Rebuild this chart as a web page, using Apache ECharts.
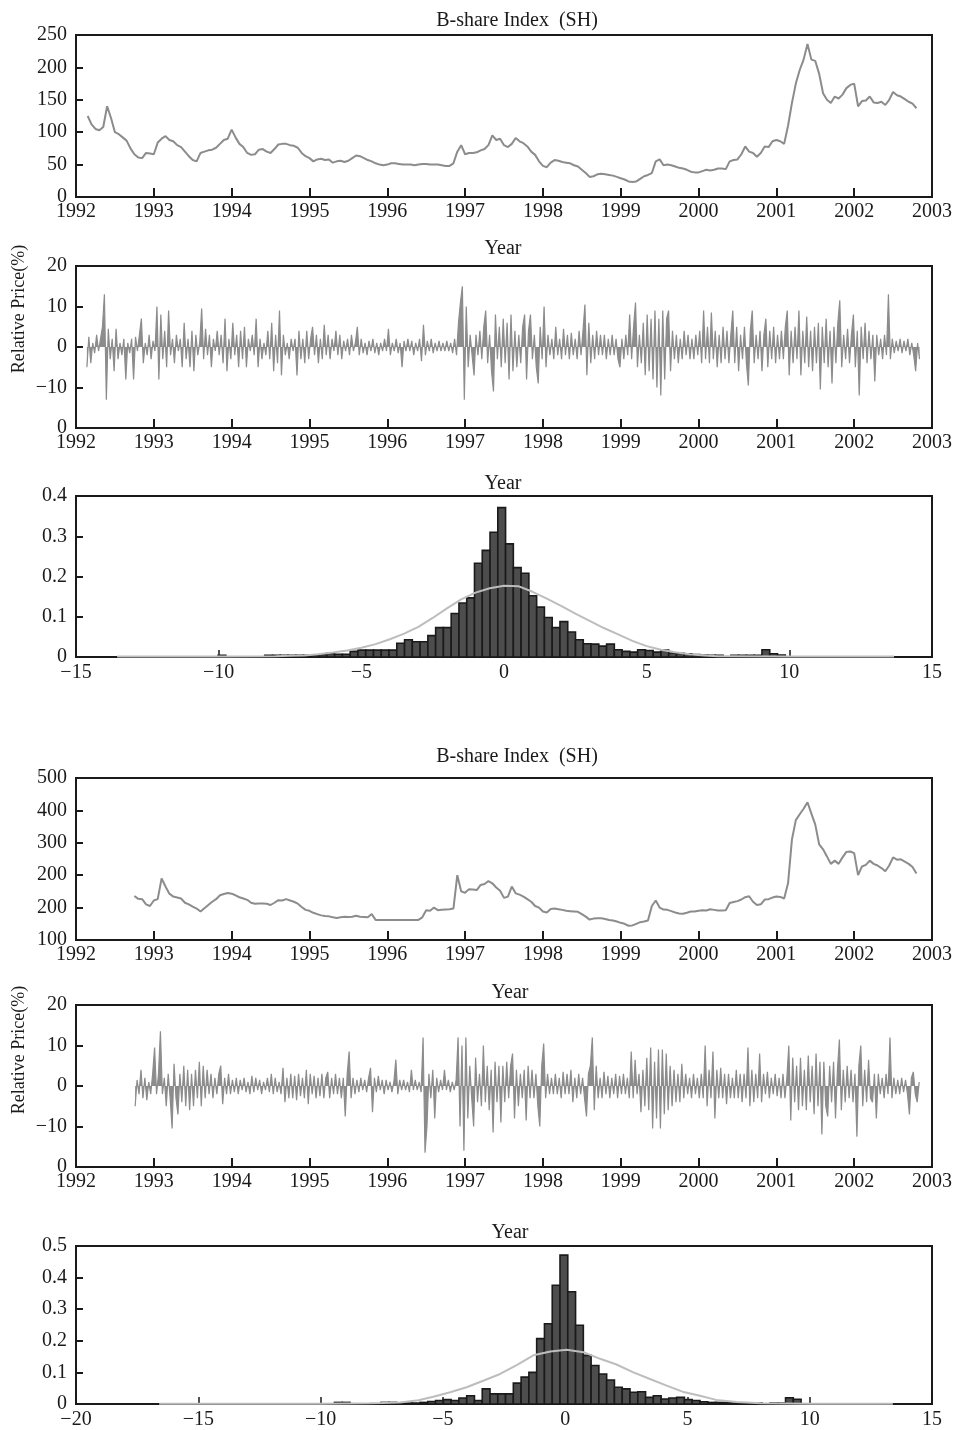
<!DOCTYPE html>
<html>
<head>
<meta charset="utf-8">
<script src="https://cdn.jsdelivr.net/npm/echarts@6/dist/echarts.min.js"></script>
<style>
  html, body { margin: 0; padding: 0; background: #fff; }
  #chart { width: 956px; height: 1430px; }
</style>
</head>
<body>
<div id="chart"></div>
<script>
// ---- data ----
// B-share index (first sample), one value every 0.05 year from 1992.15
const price1Start = 1992.15, price1Step = 0.05
const price1 = [
  125, 112, 105, 103, 108, 140, 122, 100, 97, 92, 87, 75, 66, 61, 60, 68, 67, 66, 84, 90,
  94, 88, 86, 80, 77, 70, 63, 57, 55, 68, 70, 72, 73, 76, 82, 88, 90, 104, 92, 82,
  77, 68, 65, 66, 73, 74, 70, 68, 74, 81, 82, 82, 80, 79, 76, 68, 63, 60, 55, 58,
  59, 57, 58, 53, 55, 56, 54, 56, 60, 64, 63, 60, 57, 55, 52, 50, 49, 50, 52, 52,
  51, 50, 50, 50, 49, 50, 51, 51, 50, 50, 50, 49, 48, 48, 52, 70, 80, 66, 68, 68,
  69, 72, 74, 80, 95, 88, 90, 80, 77, 82, 91, 86, 83, 78, 70, 65, 55, 48, 46, 53,
  57, 56, 54, 53, 52, 49, 47, 42, 37, 31, 32, 35, 36, 35, 34, 33, 31, 29, 27, 24,
  23, 24, 28, 32, 34, 37, 55, 58, 49, 50, 49, 47, 45, 44, 42, 39, 38, 38, 40, 42,
  41, 42, 44, 44, 43, 55, 57, 58, 66, 78, 70, 68, 62, 68, 78, 77, 86, 88, 86, 82,
  110, 145, 175, 196, 212, 236, 212, 210, 190, 160, 150, 145, 155, 152, 158, 168, 173, 175, 140, 148,
  149, 155, 146, 145, 147, 142, 150, 162, 157, 155, 151, 147, 144, 137
]
// relative price (first sample), one value every 0.025 year from 1992.14
const ret1Start = 1992.14, ret1Step = 0.025
const ret1 = [
  -5, 2.5, -4, 1, -1.5, 3, -1, 2, 5, 13, -13, 4.5, -3, 2, -6, 4.5, -3, 1, -2, 2,
  -8, 1, -1.5, 2, -8, 2.5, -1, 3, 7, -4, 1, -2, 3, -3, 1.5, -1, 10, -8, 8, -3,
  4, -5, 9, -2, 2, -4, 3, -1, 2, -5, 6, -3, 2, -5, 4, -6, 3, -2, 1, 9.5,
  -3, 4.5, -2, 3, -5, 2, -1, 4, -2, 3, -4, 7, -6, 2, -3, 6, -2, 3, -5, 4,
  -3, 5, -5, 2, -1, 3, -2, 7, -5, 2, -3, 1, -2, 4, -3, 6, -6, 3, -4, 9,
  -7, 3, -2, 1, -3, 2, -1, 2, -7, 4, -3, 2, -4, 4, -3, 2, 5, -2, 3, -4,
  2, -3, 5.5, -2, 3, -3, 2, -1, 4, -2, 3, -3, 1.5, -1, 2, -2, 3, -1, 1, 5,
  -2, 2, -1.5, 1, -2, 1.5, -1, 2, -1.5, 1, -2, 1, -1, 2, -1, 4.5, -2, 1, -1, 2,
  -1.5, 1, -5, 1.5, -1, 2, -1, 1.5, -2, 1, -1, 2, -3.5, 5.5, -2, 1.5, -1, 2, -1.5, 1,
  -1, 1.5, -1, 1, -1, 1.5, -1, 1, -1.5, 2, -2, 6, 11, 15, -13, 10, -5, 3, -2, -7,
  3, -2, 4, -3, 5, 9, -4, 3, -6, -11, 8, -3, 5, -5, 7, -4, 6, -8, 8, -6,
  4, -5, 3, -4, 5, 8, -8, 4, 8, -3, 3, -5, -9, 5, -3, 10, -5, 3, -2, 2,
  -3, 5, -2, 2, -3, 4.5, -2, 3, -3, 3.5, -2, 2, -3, 4, -2, 4, 10.5, -7, 6, -4,
  3, -3, 4, -2, 3, -2, 3, -3, 2, -2, 3, -2, 2, -3, -5, 2, -3, 3, -2, 8,
  -3, 5, 11, -5, 3, -4, 6, -7, 8, -6, 7, -8, 9, -10, 7, -12, 9, -8, 7, 9,
  -6, 4, -3, 3, -4, 2, -3, 4, -2, 3, -3, 2, -3, 3, -2, 4, -4, 9, -3, 5,
  -4, 8.5, -3, 4, -5, 3, -4, 5, -3, 4, -4, 3, 9, -4, 5, -6, 3, -3, 5, -4,
  -9.5, 4, 9, -4, 3, -3, 4, -6, 3, 7, -5, 4, -3, 5, -4, 3, -3, 4, -3, 5,
  9, -7, 4, -4, 5, -3, 9, -7, 4, -4, 7.5, -5, 4, -6, 5, -4, 6, -10.5, 5, -4,
  7, -5, 4, -9, 5, -4, 6, 11.5, -5, 3, -3, 4.5, -4, 3, 8, -5, 4, -12, 5, -3,
  6, -4, 4, -3, 3, -8.5, 3, -2, 2, -3, 3, -2, 13, -3, 2, -1.5, 1.5, -1, 2, -1.5,
  1.5, -1, 2, -2, 1, -2, -6, 1, -3
]
// histogram (first sample): bins of equal width from hist1Start
const hist1Start = -13.56, hist1Width = 0.2723
const hist1 = [
  0, 0, 0, 0, 0, 0, 0, 0, 0, 0, 0, 0, 0, 0.004, 0, 0, 0, 0, 0, 0.004,
  0.004, 0.004, 0.004, 0.004, 0.004, 0.005, 0.006, 0.009, 0.007, 0.007, 0.014, 0.017, 0.017, 0.017, 0.017, 0.017, 0.034, 0.043, 0.038, 0.038,
  0.053, 0.073, 0.073, 0.108, 0.134, 0.147, 0.233, 0.265, 0.31, 0.371, 0.281, 0.222, 0.208, 0.152, 0.124, 0.098, 0.073, 0.088, 0.062, 0.043,
  0.033, 0.032, 0.027, 0.032, 0.018, 0.014, 0.012, 0.018, 0.016, 0.012, 0.017, 0.01, 0.009, 0.008, 0.006, 0.004, 0.004, 0.004, 0, 0.004,
  0.004, 0.004, 0.004, 0.018, 0.008, 0.005
]
const norm1X = [-13.56, -10, -8, -7.5, -7, -6.5, -6, -5.5, -5, -4.5, -4, -3.5, -3, -2.5, -2, -1.5, -1, -0.5, 0, 0.5,
  1, 1.5, 2, 2.5, 3, 3.5, 4, 4.5, 5, 5.5, 6, 6.5, 7, 7.5, 8, 10, 13.67]
const norm1Y = [0.001, 0.001, 0.002, 0.003, 0.004, 0.007, 0.011, 0.016, 0.023, 0.032, 0.044, 0.058, 0.075, 0.097, 0.121, 0.143, 0.16, 0.171, 0.177, 0.176,
  0.162, 0.145, 0.127, 0.108, 0.09, 0.072, 0.056, 0.04, 0.027, 0.018, 0.012, 0.007, 0.004, 0.002, 0.002, 0.001, 0.001]

// B-share index (second sample), every 0.05 year from 1992.75
const price2Start = 1992.75, price2Step = 0.05
const price2 = [
  236, 227, 226, 210, 205, 222, 226, 290, 265, 243, 234, 231, 228, 215, 210, 203, 197, 188, 198, 208,
  218, 226, 238, 242, 245, 243, 238, 232, 228, 224, 215, 212, 213, 213, 212, 208, 215, 223, 222, 226,
  222, 218, 212, 202, 193, 190, 184, 180, 176, 174, 173, 170, 168, 170, 172, 171, 172, 175, 172, 171,
  170, 180, 162, 162, 162, 162, 162, 162, 162, 162, 162, 162, 162, 162, 170, 192, 190, 200, 192, 193,
  194, 195, 197, 300, 250, 246, 257, 256, 254, 270, 273, 282, 275, 262, 252, 230, 234, 265, 244, 240,
  234, 226, 218, 205, 200, 188, 185, 196, 197, 195, 193, 190, 189, 188, 187, 180, 172, 163, 166, 167,
  167, 165, 162, 160, 157, 153, 150, 144, 145, 150, 155, 157, 160, 205, 222, 200, 194, 193, 189, 185,
  182, 181, 184, 188, 188, 190, 192, 191, 195, 193, 191, 191, 192, 214, 217, 220, 225, 232, 235, 218,
  208, 210, 225, 226, 231, 234, 233, 228, 275, 410, 470, 488, 505, 525, 490, 456, 395, 380, 358, 335,
  345, 335, 355, 372, 373, 368, 300, 327, 332, 345, 335, 330, 322, 312, 330, 355, 348, 349, 342, 335,
  325, 305
]
const price2YLabels = ['100', '200', '200', '300', '400', '500']
// relative price (second sample), every 0.025 year from 1992.76
const ret2Start = 1992.76, ret2Step = 0.025
const ret2 = [
  -5, 1.5, -2, 4, -3, 2, -3.5, 1, -2, 3, 9.5, -2, 3, 13.5, -2, 2, -5, 3, -3, -10.5,
  5.5, -3, -7, 3, -4, 5, -5, 4, -6, 3, -5, 4, -3, 6, -5, 5, -3, 4, -2, 3,
  -3, 2, -2, 3, 5, -4.5, 2, -2, 3, -2, 1.5, -1.5, 2, -2, 1.5, -1, 2, -1.5, 1, -2,
  2.5, -1.5, 2, -1, 1.5, -2, 1, -1, 2, -1.5, 3, -2, 2, -1.5, 1, -2, 4.5, -4, 2, -3,
  3, -3, 2.5, -3.5, 3, -2.5, 2, -3, 4, -4.5, 3, -2, 2.5, -3, 2, -2.5, 3, -3, 2, 3.5,
  -3, 2, -2, 3, -2, 2, -3, 2, -7.5, 3, 8.5, -3, 2, -2, 1.5, -1.5, 2, -1, 1.5, -1.5,
  2, 4.5, -6.5, 2, -1.5, 2.5, -1, 1.5, -2, 1.5, -1, 1, -1.5, 1, 6.5, -2, 1.5, -1, 1.5, -1,
  1, -1.5, 4, -1, 1.5, -1, 1, -1.5, 12, -16.5, -10, 3, -3, 4, -8, 2, -1.5, 1.5, -1, 4,
  -1, 1.5, -1.5, 1, -1, 1.5, 12, -10, 10, -16, 12, -8, 5, -3, -10, 7, -4, 3, -5, 10,
  -4, 5, -6, 4, -11.5, 6, -4, 5, -9, 5, -4, 6, -3, 5, 8, -8, 4, -5, 3, -3,
  4, -8.5, 5, -3, 4, -3, 3, -5, -10, 5, 10.5, -3, 3, -2, 2, -2, 3, -2, 2, -3,
  3.5, -2, 3, -2, 4, -4, 2, -3, 3, -2, 2, -3, -7.5, 3, 5, 12, -6, 5, -3, 2,
  -3, 3.5, -2, 2.5, -3, 2, -2, 3, -3, 2.5, -2, 3, -2, 2, -3, 8.5, -3, 6.5, -2, 3,
  -6.5, 4, -5, 7, -6, 9.5, -10.5, 6, -8, 9, -10.5, 9, -7, 8, -6, 5, -5, 4, -4, 3,
  -4, 5.5, -3, 3, -2, 2, -3, 3, -2, 2, -3, 3, -3, 10, -5, 4, -3, 8.5, -8, 4,
  -3, 4.5, -3, 3, -4.5, 3, -3, 2, -3, 4, -3, 3, -4, 3, -3, 9.5, -5, 4, -4, 3,
  -3, 8, -4, 3, -2, 3.5, -3, 2, -2, 3, -2.5, 2, -3, 3, -3, 2, 10, -8.5, 7, -4,
  5, -6, 7, -5, 4, -6, 7.5, -4, 5, -7, 8, -5, 6, -12, 6, -5, -7.5, 5, -4, 6,
  -8, 4, 11.5, -6, 4, -4, 5, -3, 4, -4, 3, -12.5, 5, 10, -5, 4, -4, 6.5, -3, -4,
  3, -8, 3, -2, 2, -3, 3, -2, 12, -3, 2, -2, 1.5, -2, 2, -1.5, 1.5, -2, -7, 2,
  3.5, -2, -4, 1
]
const retYLabels = ['0', '\u221210', '0', '10', '20']
// histogram (second sample)
const hist2Start = -16.746, hist2Width = 0.318
const hist2 = [
  0, 0, 0, 0, 0, 0, 0, 0, 0, 0, 0, 0, 0, 0, 0, 0, 0, 0, 0, 0,
  0, 0, 0, 0.005, 0.005, 0, 0, 0, 0, 0.005, 0.005, 0.002, 0.003, 0.003, 0.005, 0.008, 0.011, 0.014, 0.011, 0.019,
  0.026, 0.011, 0.048, 0.032, 0.032, 0.032, 0.066, 0.085, 0.1, 0.207, 0.254, 0.376, 0.471, 0.355, 0.249, 0.154, 0.122, 0.095, 0.076, 0.053,
  0.048, 0.037, 0.039, 0.021, 0.026, 0.016, 0.019, 0.021, 0.014, 0.011, 0.007, 0.005, 0.005, 0.004, 0.003, 0, 0.003, 0.003, 0, 0.003,
  0.003, 0.02, 0.015
]
const norm2X = [-16.6, -10, -8, -7.5, -6.75, -6, -5.39, -4.7, -4.03, -3.3, -2.66, -2, -1.3, -0.6, 0.06, 0.75, 1.43, 2.1, 2.79, 3.47,
  4.15, 4.8, 5.51, 6.18, 7, 8, 10, 13.4]
const norm2Y = [0.001, 0.001, 0.002, 0.003, 0.005, 0.012, 0.023, 0.037, 0.053, 0.075, 0.095, 0.122, 0.154, 0.166, 0.172, 0.164, 0.143, 0.125, 0.1, 0.079,
  0.058, 0.039, 0.026, 0.013, 0.006, 0.002, 0.001, 0.001]

const FONT = 'Liberation Serif'
const INK = '#1a1a1a'
const GREY = '#8c8c8c'

function stepPoints(start, step, vals) {
  return vals.map((v, i) => [start + i * step, v])
}
function pairPoints(xs, ys) {
  return xs.map((x, i) => [x, ys[i]])
}
function binItems(start, width, heights) {
  let out = []
  heights.forEach((h, i) => {
    if (h > 0) out.push([start + i * width, start + (i + 1) * width, h])
  })
  return out
}
function minus(v) {
  return String(v).replace('-', '\u2212')
}

let myChart = echarts.init(document.getElementById('chart'))

const gridPos = [
  { top: 35, height: 162 },
  { top: 266, height: 162 },
  { top: 496, height: 161 },
  { top: 778, height: 162 },
  { top: 1005, height: 162 },
  { top: 1246, height: 158 }
]

const axisLine = { show: true, onZero: false, lineStyle: { color: INK, width: 2 } }

function xYear(gi) {
  return {
    type: 'value', gridIndex: gi, min: 1992, max: 2003, interval: 1,
    axisLine: axisLine,
    axisTick: { show: true, inside: true, length: 9, lineStyle: { color: INK, width: 2 } },
    axisLabel: { margin: 5, fontSize: 20, fontFamily: FONT, color: INK, showMinLabel: true, showMaxLabel: true,
      formatter: v => String(v) },
    splitLine: { show: false }
  }
}
function xHist(gi, min, max) {
  return {
    type: 'value', gridIndex: gi, min: min, max: max, interval: 5,
    axisLine: axisLine,
    axisTick: { show: true, inside: true, length: 7, lineStyle: { color: INK, width: 1.5 } },
    axisLabel: { margin: 6, fontSize: 20, fontFamily: FONT, color: INK, formatter: minus },
    splitLine: { show: false }
  }
}
function yAxis(gi, min, max, interval, formatter) {
  return {
    type: 'value', gridIndex: gi, min: min, max: max, interval: interval,
    axisLine: axisLine,
    axisTick: { show: true, inside: true, length: 7, lineStyle: { color: INK, width: 2 } },
    axisLabel: { margin: 9, fontSize: 20, fontFamily: FONT, color: INK, formatter: formatter },
    splitLine: { show: false }
  }
}

function renderBar(params, api) {
  let p0 = api.coord([api.value(0), api.value(2)])
  let p1 = api.coord([api.value(1), 0])
  return {
    type: 'rect',
    shape: { x: p0[0], y: p0[1], width: p1[0] - p0[0], height: p1[1] - p0[1] },
    style: { fill: '#4d4d4d', stroke: '#1a1a1a', lineWidth: 1.6 }
  }
}

function label(text, x, y, size, rot) {
  return {
    type: 'text', x: x, y: y, rotation: rot || 0,
    style: {
      text: text, font: size + 'px "' + FONT + '"', fill: INK,
      align: 'center', verticalAlign: 'middle', textAlign: 'center', textVerticalAlign: 'middle'
    }
  }
}

function retSeries(axis, data) {
  return {
    type: 'line', xAxisIndex: axis, yAxisIndex: axis, symbol: 'none',
    lineStyle: { color: GREY, width: 1.2 },
    areaStyle: { color: GREY, opacity: 1, origin: 0 },
    data: data
  }
}

myChart.setOption({
  animation: false,
  backgroundColor: '#fff',
  grid: gridPos.map(g => ({
    left: 76, width: 856, top: g.top, height: g.height,
    show: true, borderColor: INK, borderWidth: 2, backgroundColor: 'transparent'
  })),
  xAxis: [xYear(0), xYear(1), xHist(2, -15, 15), xYear(3), xYear(4), xHist(5, -20, 15)],
  yAxis: [
    yAxis(0, 0, 250, 50),
    yAxis(1, -20, 20, 10, v => retYLabels[Math.round((v + 20) / 10)]),
    yAxis(2, 0, 0.4, 0.1),
    yAxis(3, 100, 600, 100, v => price2YLabels[Math.round((v - 100) / 100)]),
    yAxis(4, -20, 20, 10, v => retYLabels[Math.round((v + 20) / 10)]),
    yAxis(5, 0, 0.5, 0.1)
  ],
  graphic: [
    label('B-share Index  (SH)', 517, 21, 20),
    label('Year', 503, 249, 20),
    label('Relative Price(%)', 19, 309, 18, Math.PI / 2),
    label('Year', 503, 484, 20),
    label('B-share Index  (SH)', 517, 757, 20),
    label('Year', 510, 993, 20),
    label('Relative Price(%)', 19, 1050, 18, Math.PI / 2),
    label('Year', 510, 1233, 20)
  ],
  series: [
    {
      type: 'line', xAxisIndex: 0, yAxisIndex: 0, symbol: 'none',
      lineStyle: { color: GREY, width: 2 },
      data: stepPoints(price1Start, price1Step, price1)
    },
    retSeries(1, stepPoints(ret1Start, ret1Step, ret1)),
    {
      type: 'custom', xAxisIndex: 2, yAxisIndex: 2, renderItem: renderBar,
      encode: { x: [0, 1], y: 2 }, z: 2,
      data: binItems(hist1Start, hist1Width, hist1)
    },
    {
      type: 'line', xAxisIndex: 2, yAxisIndex: 2, symbol: 'none', z: 3,
      lineStyle: { color: '#bdbdbd', width: 2 },
      data: pairPoints(norm1X, norm1Y)
    },
    {
      type: 'line', xAxisIndex: 3, yAxisIndex: 3, symbol: 'none',
      lineStyle: { color: GREY, width: 2 },
      data: stepPoints(price2Start, price2Step, price2)
    },
    retSeries(4, stepPoints(ret2Start, ret2Step, ret2)),
    {
      type: 'custom', xAxisIndex: 5, yAxisIndex: 5, renderItem: renderBar,
      encode: { x: [0, 1], y: 2 }, z: 2,
      data: binItems(hist2Start, hist2Width, hist2)
    },
    {
      type: 'line', xAxisIndex: 5, yAxisIndex: 5, symbol: 'none', z: 3,
      lineStyle: { color: '#bdbdbd', width: 2 },
      data: pairPoints(norm2X, norm2Y)
    }
  ]
})
</script>
</body>
</html>
